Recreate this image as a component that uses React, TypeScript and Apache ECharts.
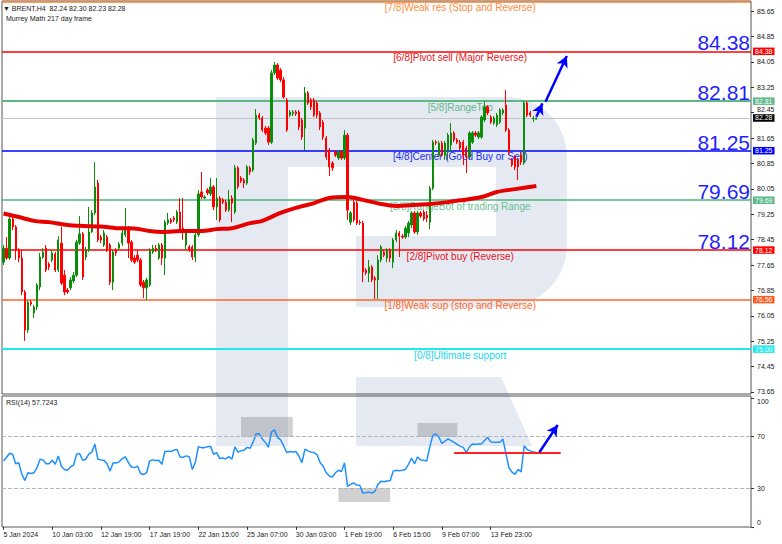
import React, { useEffect, useRef } from 'react';
import * as echarts from 'echarts';

// ---------- data ----------
const tickLabels = ['5 Jan 2024', '10 Jan 03:00', '12 Jan 19:00', '17 Jan 19:00', '22 Jan 15:00', '25 Jan 07:00', '30 Jan 03:00', '1 Feb 19:00', '6 Feb 15:00', '9 Feb 07:00', '13 Feb 23:00'];
const TICK_STEP = 16;
const SLOT_COUNT = 246; // bars + empty right margin of the chart

const open = [77.74, 78.18, 77.87, 79.10, 78.85, 78.12, 77.87, 76.80, 75.60, 76.48,
  76.14, 76.33, 76.96, 77.90, 78.18, 77.68, 77.81, 78.00, 77.49, 78.34,
  77.33, 76.86, 76.93, 77.15, 77.33, 78.34, 78.63, 77.90, 78.12, 78.69,
  79.29, 80.23, 78.53, 78.28, 78.53, 78.28, 77.11, 78.12, 78.18, 78.34,
  78.60, 78.81, 78.37, 77.87, 77.96, 77.81, 77.11, 76.93, 77.02, 78.06,
  78.18, 77.87, 78.28, 77.87, 78.97, 79.07, 79.13, 79.00, 79.32, 78.81,
  78.28, 78.22, 78.22, 77.90, 78.60, 79.95, 79.76, 80.01, 79.89, 80.11,
  79.48, 79.76, 79.70, 79.63, 79.38, 79.76, 79.32, 80.71, 80.39, 80.33,
  80.23, 80.71, 80.64, 81.49, 82.37, 82.28, 81.96, 81.96, 81.52, 83.70,
  83.95, 83.79, 83.48, 82.85, 82.37, 82.41, 82.47, 82.47, 82.22, 81.96,
  83.07, 82.85, 82.85, 82.75, 82.44, 82.15, 81.65, 81.27, 80.86, 81.21,
  81.02, 81.21, 81.02, 81.74, 79.00, 79.63, 79.60, 79.00, 78.97, 77.49,
  77.40, 77.59, 77.24, 77.18, 77.81, 78.06, 77.87, 78.12, 77.74, 78.44,
  78.66, 78.56, 78.53, 78.66, 78.91, 79.29, 78.69, 79.29, 79.32, 79.22,
  79.00, 80.07, 81.52, 81.11, 81.49, 81.11, 81.27, 81.43, 81.81, 81.59,
  81.52, 81.52, 81.33, 81.05, 81.52, 81.81, 81.68, 81.68, 82.22, 82.63,
  82.31, 82.12, 82.06, 82.15, 82.44, 82.69, 81.90, 80.96, 81.05, 80.96,
  81.11, 80.86, 82.75, 82.44, 82.25, 82.24];

const close = [78.18, 77.87, 79.10, 78.85, 78.12, 77.87, 76.80, 75.60, 76.48, 76.42,
  76.33, 77.02, 77.90, 78.06, 77.49, 77.59, 78.03, 77.49, 78.44, 77.08,
  76.80, 76.80, 77.18, 77.33, 78.37, 78.63, 77.27, 78.12, 78.69, 79.29,
  80.11, 78.44, 78.44, 78.66, 78.12, 77.11, 78.06, 78.03, 78.31, 78.66,
  78.85, 78.34, 77.81, 77.74, 77.81, 77.02, 76.93, 77.18, 78.12, 78.18,
  78.12, 78.28, 77.87, 79.00, 79.07, 79.00, 79.07, 79.32, 78.75, 78.69,
  78.69, 78.12, 77.90, 78.60, 79.89, 79.79, 79.79, 79.92, 80.11, 79.48,
  79.76, 79.07, 79.63, 79.38, 79.70, 79.60, 80.71, 80.11, 80.30, 80.23,
  80.74, 80.58, 81.59, 82.37, 82.28, 81.90, 81.81, 81.52, 83.70, 83.95,
  83.54, 83.48, 82.94, 81.90, 82.47, 82.47, 82.41, 82.00, 81.68, 83.07,
  82.75, 82.63, 82.37, 82.37, 82.00, 81.68, 81.05, 80.74, 80.71, 81.11,
  81.21, 81.02, 81.74, 79.38, 79.29, 79.07, 78.97, 78.97, 77.43, 77.40,
  77.59, 77.18, 77.18, 77.81, 78.22, 77.96, 78.12, 77.87, 78.44, 78.66,
  78.56, 78.53, 78.81, 78.97, 79.29, 78.69, 79.29, 79.19, 79.10, 79.13,
  80.07, 81.52, 81.49, 81.49, 81.11, 81.49, 81.74, 81.81, 81.59, 81.52,
  81.33, 81.11, 81.05, 81.81, 81.81, 81.74, 81.81, 82.31, 82.63, 82.44,
  82.15, 82.28, 82.37, 82.53, 82.53, 81.90, 81.21, 80.80, 80.74, 80.74,
  80.89, 82.75, 82.37, 82.37, 82.28, 82.28];

const high = [78.28, 78.53, 79.29, 79.19, 78.91, 78.18, 78.12, 76.86, 76.55, 76.55,
  76.39, 77.08, 78.03, 78.18, 78.28, 77.74, 78.12, 78.06, 78.56, 78.85,
  77.49, 76.93, 77.27, 77.43, 78.44, 79.19, 78.69, 78.22, 79.48, 79.38,
  80.89, 80.33, 78.60, 78.75, 78.60, 78.34, 78.12, 78.18, 78.37, 78.75,
  79.45, 78.88, 78.44, 77.96, 78.12, 77.87, 77.18, 77.24, 78.18, 78.28,
  78.28, 78.34, 78.34, 79.07, 79.29, 79.13, 79.19, 79.38, 79.76, 79.76,
  78.75, 78.28, 78.28, 78.66, 80.01, 80.58, 79.85, 80.07, 80.39, 80.17,
  80.39, 79.82, 79.76, 79.70, 80.01, 79.85, 80.80, 80.77, 80.45, 80.39,
  80.80, 80.77, 81.65, 82.56, 82.44, 82.34, 82.03, 82.03, 83.79, 84.04,
  84.01, 83.85, 83.57, 82.91, 82.53, 82.53, 82.53, 82.53, 82.28, 83.26,
  83.13, 82.91, 82.91, 82.81, 82.50, 82.22, 81.71, 81.33, 80.92, 81.27,
  81.27, 81.27, 81.90, 81.81, 79.35, 79.70, 79.67, 79.07, 79.04, 77.55,
  77.81, 77.65, 77.30, 77.96, 78.28, 78.12, 78.18, 78.18, 78.50, 78.75,
  78.72, 78.63, 78.88, 79.04, 79.35, 79.35, 79.35, 79.35, 79.38, 79.35,
  80.14, 81.59, 81.59, 81.56, 81.56, 81.56, 81.81, 82.12, 81.87, 81.65,
  81.59, 81.59, 81.40, 81.87, 81.87, 81.87, 81.87, 82.37, 82.81, 82.69,
  82.37, 82.34, 82.44, 82.59, 82.59, 83.16, 81.96, 81.02, 81.11, 81.02,
  81.21, 82.81, 82.81, 82.50, 82.34, 82.30];

const low = [77.65, 77.81, 77.81, 78.75, 77.81, 77.74, 76.70, 75.26, 75.51, 76.36,
  75.98, 76.23, 76.86, 77.84, 77.43, 77.49, 77.74, 77.43, 77.43, 77.02,
  76.70, 76.74, 76.86, 77.08, 77.27, 78.28, 77.18, 77.81, 78.06, 78.66,
  79.22, 78.37, 78.34, 78.22, 78.06, 77.02, 76.86, 77.93, 78.12, 78.25,
  78.53, 77.87, 77.74, 77.68, 77.74, 76.96, 76.61, 76.55, 76.96, 78.00,
  78.06, 77.81, 77.65, 77.33, 78.91, 78.94, 79.00, 78.94, 78.69, 78.44,
  78.12, 78.06, 77.81, 77.74, 78.53, 79.73, 79.73, 79.85, 79.82, 79.38,
  79.07, 79.00, 79.57, 79.32, 79.32, 79.00, 79.26, 80.04, 80.23, 80.07,
  80.17, 80.48, 80.58, 81.43, 82.22, 81.84, 81.74, 81.43, 81.46, 83.63,
  83.48, 83.41, 82.88, 81.84, 82.31, 82.34, 82.34, 81.90, 81.59, 81.27,
  82.69, 82.53, 82.31, 82.28, 81.90, 81.59, 80.96, 80.45, 80.61, 81.05,
  80.96, 80.96, 80.96, 79.07, 78.91, 79.00, 78.91, 78.91, 77.11, 77.33,
  77.11, 77.11, 76.58, 76.58, 77.74, 77.90, 77.74, 77.74, 77.55, 78.37,
  77.90, 78.47, 78.47, 78.53, 78.81, 78.63, 78.60, 79.13, 79.04, 79.00,
  78.78, 80.01, 81.43, 81.05, 81.05, 80.96, 80.96, 81.21, 81.52, 81.46,
  81.27, 80.80, 80.55, 80.99, 81.46, 81.68, 81.62, 81.62, 82.15, 82.37,
  82.09, 82.06, 82.00, 82.09, 82.37, 81.84, 81.11, 80.74, 80.64, 80.33,
  80.80, 80.80, 82.31, 82.31, 82.15, 82.23];

// moving average, read at sample bars
const maBar = [0, 5, 10, 15, 21, 26, 32, 37, 43, 48, 52, 59, 65, 70, 75, 81, 85, 91, 96, 102, 107, 113, 118, 124, 129, 135, 140, 146, 151, 157, 162, 168, 175];
const maValue = [79.27, 79.16, 79.04, 79.00, 78.91, 78.88, 78.86, 78.81, 78.80, 78.72, 78.69, 78.72, 78.72, 78.78, 78.81, 78.97, 79.04, 79.29, 79.45, 79.60, 79.76, 79.79, 79.70, 79.57, 79.51, 79.54, 79.57, 79.63, 79.70, 79.79, 79.95, 80.04, 80.14];

const rsi = [51.2, 54, 57.2, 56.4, 49, 49.8, 41, 36, 42, 41.5,
  42, 46, 52.5, 52, 49, 49, 51.7, 48.6, 55, 47,
  44.6, 44, 46.5, 48, 56.4, 57, 51.7, 52.5, 56.4, 58,
  64.3, 52.5, 52, 51.7, 49, 43.3, 49.8, 49.5, 50.5, 53,
  54.3, 50, 46.5, 46, 47.2, 41.5, 40.7, 42, 51.2, 52,
  51.5, 51.7, 48.6, 58.5, 58.8, 58.5, 59.6, 60, 54.3, 54,
  55.1, 54.5, 44.6, 50, 62.2, 61.5, 61.5, 62.2, 62.5, 56.4,
  57.7, 53, 53.5, 52.8, 54.5, 52.5, 62.2, 58, 59, 59.6,
  61.7, 61, 66, 72.2, 72.2, 68.3, 65.6, 61.7, 73.5, 75.4,
  69.5, 67.5, 63, 57.7, 58.5, 58.2, 58.5, 55, 49.8, 60.4,
  59, 58, 57.7, 56, 49.8, 47, 42, 39.5, 38.6, 42,
  43.9, 43, 49.8, 31.5, 33, 34.1, 32.5, 32.3, 26.2, 26.5,
  27, 26.2, 27.6, 33, 35.4, 35, 35.6, 36, 43.3, 44,
  43.5, 44, 44.6, 48.6, 53.3, 49, 54.3, 52, 51.7, 51.2,
  62, 71, 72.2, 69.5, 64.8, 66.5, 68.3, 67, 65.6, 64,
  62.5, 61.7, 57.7, 62, 64.3, 64, 64.3, 64.3, 67, 69.5,
  66, 65.6, 65.6, 65.6, 68.3, 57, 45.9, 42.5, 40.7, 44.6,
  42.7, 63, 60, 59, 58.2, 57.72];

const levelValues = [85.94, 84.38, 82.81, 81.25, 79.69, 78.12, 76.56, 75.00];
const levelNames = ['[7/8]Weak res (Stop and Reverse)', '[6/8]Pivot sell (Major Reverse)', '[5/8]RangeTop', '[4/8]Center (Good Buy or Sell)', '[3/8]RangeBot of trading Range', '[2/8]Pivot buy (Reverse)', '[1/8]Weak sup (stop and Reverse)', '[0/8]Ultimate support'];
const bigLevels = [84.38, 82.81, 81.25, 79.69, 78.12];
const lastPrice = 82.28;
const priceTicks = [85.65, 84.85, 84.05, 83.25, 82.45, 81.65, 80.85, 80.05, 79.25, 78.45, 77.65, 76.85, 76.05, 75.25, 74.45, 73.65];
const rsiTicks = [100, 70, 30, 0];
const rsiLevels = [70, 30];
const rsiSupport = { from: 148, to: 183, value: 57.6 };
const rsiArrow = [[176, 57.9], [182, 79.1]];
const priceArrows = [[[178, 82.79], [185, 84.23]], [[175, 82.32], [177, 82.74]]];
const rsiBoxes = [[[78, 85.3], [95, 69.8]], [[136, 80.7], [149, 69.8]], [[110, 30.2], [127, 19.3]]];
const header = '▼ BRENT,H4  82.24 82.30 82.23 82.28';
const subHeader = 'Murrey Math 217 day frame';
const rsiHeader = 'RSI(14) 57.7243';

// ---------- styles ----------
const FONT = '"Liberation Sans", Arial, sans-serif';
const UP = '#0b8c0b';
const DOWN = '#ff0000';
const LOGO = '#e4e9f2';
const NAME_SLOT = 150;
const levelStyle = [
  { line: '#ff7f27', text: '#ff8a3a', box: '', width: 1.5 },
  { line: '#ff0000', text: '#e8141a', box: '#ff0000', width: 1.5 },
  { line: '#5cb886', text: '#62b88a', box: '#5cb886', width: 2 },
  { line: '#0000ff', text: '#1a2bff', box: '#0000ff', width: 1.5 },
  { line: '#4cb47c', text: '#6cbf92', box: '#5cb886', width: 1.5 },
  { line: '#ff0000', text: '#e8141a', box: '#ff0000', width: 1.5 },
  { line: '#ff6428', text: '#ff6a2a', box: '#ff5a1e', width: 1.5 },
  { line: '#1ee8f0', text: '#19d8f0', box: '#1ee8f0', width: 2 },
];

function buildOption(): any {
  const cats = Array.from({ length: SLOT_COUNT }, (_, i) => String(i));
  const ohlc = open.map((o, i) => [o, close[i], low[i], high[i]]);
  const maData = maBar.map((b, k) => [b, maValue[k]]);
  const showTick = (idx: number) => idx % TICK_STEP === 0 && idx / TICK_STEP < tickLabels.length;

  const boxLabel = (bg: string, txt: string) => ({
    show: true, position: 'end', distance: 2, formatter: txt,
    backgroundColor: bg, color: '#fff', fontSize: 7, fontFamily: FONT, padding: [0, 2, 0, 2], lineHeight: 7.5,
  });

  const mlData: any[] = [];
  levelValues.forEach((v, k) => {
    const s = levelStyle[k];
    mlData.push({
      yAxis: v,
      lineStyle: { color: s.line, width: s.width, type: 'solid' },
      label: s.box ? boxLabel(s.box, v.toFixed(2)) : { show: false },
    });
  });
  bigLevels.forEach((v) => {
    mlData.push({
      yAxis: v,
      lineStyle: { color: 'rgba(255,255,255,0)', width: 1, type: 'solid' },
      label: { show: true, position: 'insideEndTop', distance: [1, -2], formatter: v.toFixed(2), color: '#1f1fff', fontSize: 21, fontFamily: FONT },
    });
  });
  mlData.push({ yAxis: lastPrice, lineStyle: { color: '#c4c4c4', width: 1, type: 'solid' }, label: boxLabel('#000', lastPrice.toFixed(2)) });
  priceArrows.forEach((a) => {
    mlData.push([
      { coord: a[0], symbol: 'none' },
      { coord: a[1], symbol: 'arrow', symbolSize: [9, 11], lineStyle: { color: '#0000ff', width: 2.5, type: 'solid' }, label: { show: false } },
    ]);
  });

  const mpData = levelValues.map((v, k) => ({
    coord: [NAME_SLOT, v], symbol: 'circle', symbolSize: 0, itemStyle: { color: 'transparent' },
    label: { show: true, position: 'bottom', distance: 1, formatter: levelNames[k], color: levelStyle[k].text, fontSize: 10, fontFamily: FONT },
  }));

  const rsiMl: any[] = rsiLevels.map((v) => ({ yAxis: v, lineStyle: { color: '#b4b4b4', type: 'dashed', width: 1 } }));
  rsiMl.push([
    { coord: [rsiSupport.from, rsiSupport.value], symbol: 'none' },
    { coord: [rsiSupport.to, rsiSupport.value], symbol: 'none', lineStyle: { color: '#ff2222', width: 2, type: 'solid' } },
  ]);
  rsiMl.push([
    { coord: rsiArrow[0], symbol: 'none' },
    { coord: rsiArrow[1], symbol: 'arrow', symbolSize: [9, 11], lineStyle: { color: '#0000ff', width: 2.5, type: 'solid' } },
  ]);

  const logoEl = (o: any) => ({ ...o, silent: true, z: -10 });

  // price tick that sits right above the current-price box is nudged up a little
  const priceLabel = (v: number) => {
    const t = v.toFixed(2);
    return Math.abs(v - lastPrice) < 0.3 ? `{up|${t}}` : t;
  };
  const rsiLabel = (v: number) => (v === 100 ? `{dn|${v}}` : v === 0 ? `{up|${v}}` : String(v));

  return {
    animation: false,
    backgroundColor: '#ffffff',
    textStyle: { fontFamily: FONT },
    grid: [
      { left: 2, right: 31, top: 1, height: 393, show: true, borderColor: '#555', borderWidth: 1, backgroundColor: 'transparent', containLabel: false, outerBoundsMode: 'none' },
      { left: 2, right: 31, top: 396, height: 131, show: true, borderColor: '#555', borderWidth: 1, backgroundColor: 'transparent', containLabel: false, outerBoundsMode: 'none' },
    ],
    xAxis: [
      { type: 'category', gridIndex: 0, data: cats, boundaryGap: true, axisLabel: { show: false }, axisTick: { show: false }, axisLine: { show: false }, splitLine: { show: false } },
      {
        type: 'category', gridIndex: 1, data: cats, boundaryGap: true,
        axisLine: { show: false },
        axisTick: { show: true, interval: (idx: number) => showTick(idx), alignWithLabel: true, length: 3, lineStyle: { color: '#333' } },
        axisLabel: {
          show: true, interval: (idx: number) => showTick(idx), align: 'left', margin: 4,
          formatter: (_v: string, idx: number) => (showTick(idx) ? tickLabels[idx / TICK_STEP] : ''),
          color: '#222', fontSize: 7, fontFamily: FONT,
        },
        splitLine: { show: false },
      },
    ],
    yAxis: [
      {
        type: 'value', gridIndex: 0, position: 'right', min: 73.587, max: 85.965, scale: true,
        axisLine: { show: false }, splitLine: { show: false },
        axisTick: { show: true, customValues: priceTicks, length: 3, lineStyle: { color: '#333' } },
        axisLabel: {
          show: true, customValues: priceTicks, formatter: priceLabel, margin: 6, color: '#222', fontSize: 7, fontFamily: FONT,
          rich: { up: { color: '#222', fontSize: 7, fontFamily: FONT, padding: [0, 0, 6, 0] } },
        },
      },
      {
        type: 'value', gridIndex: 1, position: 'right', min: -0.1, max: 101.6,
        axisLine: { show: false }, splitLine: { show: false },
        axisTick: { show: true, customValues: rsiTicks, length: 3, lineStyle: { color: '#333' } },
        axisLabel: {
          show: true, customValues: rsiTicks, formatter: rsiLabel, margin: 6, color: '#222', fontSize: 7, fontFamily: FONT,
          rich: {
            up: { color: '#222', fontSize: 7, fontFamily: FONT, padding: [0, 0, 8, 0] },
            dn: { color: '#222', fontSize: 7, fontFamily: FONT, padding: [6, 0, 0, 0] },
          },
        },
      },
    ],
    graphic: [
      logoEl({ type: 'rect', shape: { x: 216, y: 97, width: 72, height: 349 }, style: { fill: LOGO } }),
      logoEl({ type: 'rect', shape: { x: 216, y: 97, width: 200, height: 70 }, style: { fill: LOGO } }),
      logoEl({ type: 'rect', shape: { x: 356, y: 97, width: 211, height: 210, r: [0, 60, 62, 0] }, style: { fill: LOGO } }),
      logoEl({ type: 'rect', shape: { x: 288, y: 167, width: 208, height: 69 }, style: { fill: '#ffffff' } }),
      logoEl({ type: 'polygon', shape: { points: [[356, 377], [501, 377], [532, 446], [356, 446]] }, style: { fill: LOGO } }),
      { type: 'text', silent: true, z: 10, style: { x: 3, y: 8, text: header, fill: '#1a1a1a', fontSize: 7, fontFamily: FONT, verticalAlign: 'middle' } },
      { type: 'text', silent: true, z: 10, style: { x: 6, y: 18.5, text: subHeader, fill: '#1a1a1a', fontSize: 7, fontFamily: FONT, verticalAlign: 'middle' } },
      { type: 'text', silent: true, z: 10, style: { x: 6, y: 402, text: rsiHeader, fill: '#1a1a1a', fontSize: 7, fontFamily: FONT, verticalAlign: 'middle' } },
    ],
    series: [
      {
        name: 'BRENT', type: 'candlestick', xAxisIndex: 0, yAxisIndex: 0, data: ohlc, barWidth: 1.8,
        itemStyle: { color: UP, color0: DOWN, borderColor: UP, borderColor0: DOWN, borderWidth: 1 },
        markLine: { silent: true, z: 1, symbol: ['none', 'none'], label: { show: false }, data: mlData },
        markPoint: { silent: true, z: 1, data: mpData },
      },
      {
        name: 'MA', type: 'line', xAxisIndex: 0, yAxisIndex: 0, data: maData, showSymbol: false, smooth: 0.3,
        lineStyle: { color: '#e60000', width: 4 }, z: 3, silent: true,
      },
      {
        name: 'RSI', type: 'line', xAxisIndex: 1, yAxisIndex: 1, data: rsi, showSymbol: false,
        lineStyle: { color: '#1e90ff', width: 1.5 }, silent: true,
        markLine: { silent: true, symbol: ['none', 'none'], label: { show: false }, data: rsiMl },
        markArea: {
          silent: true, itemStyle: { color: 'rgba(128,128,128,0.36)' },
          data: rsiBoxes.map((b) => [{ coord: b[0] }, { coord: b[1] }]),
        },
      },
    ],
  };
}

export default function App() {
  const ref = useRef<HTMLDivElement>(null);
  useEffect(() => {
    document.body.style.margin = '0';
    if (!ref.current) return;
    const chart = echarts.init(ref.current, null, { renderer: 'svg' });
    chart.setOption(buildOption());
    return () => chart.dispose();
  }, []);
  return <div ref={ref} style={{ width: 782, height: 544 }} />;
}
